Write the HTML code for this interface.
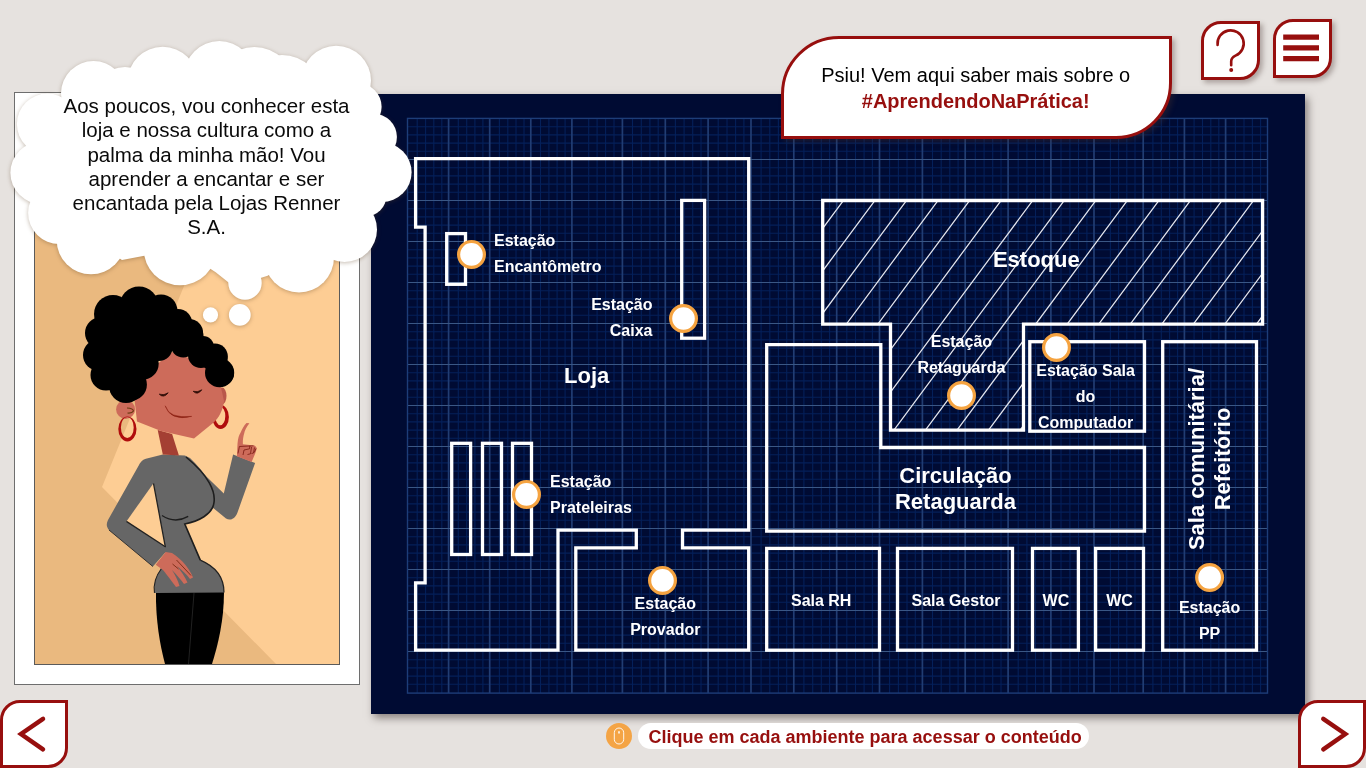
<!DOCTYPE html>
<html><head><meta charset="utf-8"><title>Loja</title>
<style>
html,body{margin:0;padding:0}
body{width:1366px;height:768px;overflow:hidden;position:relative;background:#e6e2df;font-family:"Liberation Sans",sans-serif}
#root{position:absolute;left:0;top:0;width:1366px;height:768px;will-change:transform;overflow:hidden}
.abs{position:absolute}
#frame{left:14px;top:92px;width:344px;height:591px;background:#fff;border:1px solid #6e6e6e}
#photo{left:35px;top:113px;width:304px;height:550.5px;background:#fdcd94;overflow:hidden;box-shadow:0 0 0 1px #5a5a5a}
#panel{left:371px;top:94px;width:934px;height:620px;background:#000b33;box-shadow:3px 4px 8px rgba(60,50,45,.55)}
.lb{position:absolute;color:#fff;font-weight:bold;white-space:nowrap}
#bubble{left:781px;top:36px;width:385px;height:97px;border:3px solid #970f0e;background:#fff;border-radius:58px 0 56px 0;box-shadow:3px 3px 5px rgba(70,50,45,.35);text-align:center;font-size:20px;line-height:26px;color:#000}
#bubble b{color:#970f0e}
.btn{position:absolute;background:#fff;border:3px solid #970f0e;box-sizing:border-box}
#hint{left:638px;top:723px;width:451px;height:26px;border-radius:13px;background:#fff;color:#970f0e;font-weight:bold;font-size:18px;line-height:26px;white-space:nowrap}
#hint span{position:absolute;left:10.5px;top:1px}
#mouse{left:606px;top:723px;width:26px;height:26px;border-radius:50%;background:#f4a445}
#cloudtxt{left:6.5px;top:94px;width:400px;text-align:center;font-size:20.5px;line-height:24.3px;color:#0a0a0a;white-space:nowrap}
</style></head><body>
<div id="root">
<div id="frame" class="abs"></div>
<div id="photo" class="abs"></div>
<div id="panel" class="abs"></div>
<svg class="abs" style="left:0;top:0" width="1366" height="768" viewBox="0 0 1366 768">
<path d="M417.2 118.4V693.1M425.6 118.4V693.1M433.8 118.4V693.1M441.8 118.4V693.1M458.3 118.4V693.1M466.7 118.4V693.1M474.9 118.4V693.1M482.9 118.4V693.1M499.4 118.4V693.1M507.8 118.4V693.1M516.0 118.4V693.1M524.0 118.4V693.1M540.5 118.4V693.1M548.9 118.4V693.1M557.1 118.4V693.1M565.1 118.4V693.1M588.7 118.4V693.1M597.1 118.4V693.1M605.6 118.4V693.1M614.0 118.4V693.1M632.5 118.4V693.1M641.3 118.4V693.1M649.9 118.4V693.1M658.2 118.4V693.1M675.4 118.4V693.1M684.1 118.4V693.1M692.7 118.4V693.1M701.0 118.4V693.1M718.2 118.4V693.1M727.0 118.4V693.1M735.6 118.4V693.1M743.9 118.4V693.1M761.1 118.4V693.1M769.8 118.4V693.1M778.4 118.4V693.1M786.7 118.4V693.1M803.9 118.4V693.1M812.7 118.4V693.1M821.3 118.4V693.1M829.6 118.4V693.1M846.8 118.4V693.1M855.5 118.4V693.1M864.1 118.4V693.1M872.4 118.4V693.1M889.6 118.4V693.1M898.4 118.4V693.1M907.0 118.4V693.1M915.3 118.4V693.1M932.5 118.4V693.1M941.2 118.4V693.1M949.8 118.4V693.1M958.1 118.4V693.1M975.3 118.4V693.1M984.1 118.4V693.1M992.7 118.4V693.1M1001.0 118.4V693.1M1018.2 118.4V693.1M1026.9 118.4V693.1M1035.5 118.4V693.1M1043.8 118.4V693.1M1061.0 118.4V693.1M1069.9 118.4V693.1M1078.5 118.4V693.1M1086.9 118.4V693.1M1110.4 118.4V693.1M1118.6 118.4V693.1M1126.8 118.4V693.1M1135.0 118.4V693.1M1152.9 118.4V693.1M1161.3 118.4V693.1M1169.6 118.4V693.1M1177.6 118.4V693.1M1194.1 118.4V693.1M1202.5 118.4V693.1M1210.8 118.4V693.1M1218.8 118.4V693.1M1235.4 118.4V693.1M1244.0 118.4V693.1M1252.4 118.4V693.1M1260.6 118.4V693.1M407.5 126.7H1267.5M407.5 134.9H1267.5M407.5 143.1H1267.5M407.5 151.3H1267.5M407.5 167.7H1267.5M407.5 175.9H1267.5M407.5 184.1H1267.5M407.5 192.3H1267.5M407.5 208.7H1267.5M407.5 216.9H1267.5M407.5 225.1H1267.5M407.5 233.3H1267.5M407.5 249.7H1267.5M407.5 257.9H1267.5M407.5 266.1H1267.5M407.5 274.3H1267.5M407.5 290.7H1267.5M407.5 298.9H1267.5M407.5 307.1H1267.5M407.5 315.3H1267.5M407.5 331.7H1267.5M407.5 339.9H1267.5M407.5 348.1H1267.5M407.5 356.3H1267.5M407.5 372.7H1267.5M407.5 380.9H1267.5M407.5 389.1H1267.5M407.5 397.3H1267.5M407.5 413.7H1267.5M407.5 421.9H1267.5M407.5 430.1H1267.5M407.5 438.3H1267.5M407.5 454.7H1267.5M407.5 462.9H1267.5M407.5 471.1H1267.5M407.5 479.3H1267.5M407.5 495.7H1267.5M407.5 503.9H1267.5M407.5 512.1H1267.5M407.5 520.3H1267.5M407.5 536.7H1267.5M407.5 544.9H1267.5M407.5 553.1H1267.5M407.5 561.3H1267.5M407.5 577.7H1267.5M407.5 585.9H1267.5M407.5 594.1H1267.5M407.5 602.3H1267.5M407.5 618.7H1267.5M407.5 626.9H1267.5M407.5 635.1H1267.5M407.5 643.3H1267.5M407.5 659.7H1267.5M407.5 667.9H1267.5M407.5 676.1H1267.5M407.5 684.3H1267.5" stroke="#04205a" stroke-width="1.1" fill="none"/>
<path d="M448.6 118.4V693.1M489.7 118.4V693.1M530.8 118.4V693.1M571.9 118.4V693.1M622.4 118.4V693.1M665.3 118.4V693.1M708.1 118.4V693.1M751.0 118.4V693.1M793.8 118.4V693.1M836.7 118.4V693.1M879.5 118.4V693.1M922.4 118.4V693.1M965.2 118.4V693.1M1008.1 118.4V693.1M1050.9 118.4V693.1M1094.0 118.4V693.1M1143.2 118.4V693.1M1184.4 118.4V693.1M1225.6 118.4V693.1" stroke="#213d73" stroke-width="1.7" fill="none"/>
<path d="M407.5 159.5H1267.5M407.5 200.5H1267.5M407.5 241.5H1267.5M407.5 282.5H1267.5M407.5 323.5H1267.5M407.5 364.5H1267.5M407.5 405.5H1267.5M407.5 446.5H1267.5M407.5 487.5H1267.5M407.5 528.5H1267.5M407.5 569.5H1267.5M407.5 610.5H1267.5M407.5 651.5H1267.5" stroke="#3a5785" stroke-width="1.1" fill="none"/>
<rect x="407.5" y="118.4" width="860.0" height="574.7" fill="none" stroke="#1d3d78" stroke-width="1.4"/>
<clipPath id="est"><path d="M822.7 200.5H1262.6V324.2H1023.5V430.2H890.5V324.2H822.7Z"/></clipPath>
<path clip-path="url(#est)" d="M752.8 195L574.8 435M784.4 195L606.3 435M815.9 195L637.9 435M847.5 195L669.4 435M879.0 195L701.0 435M910.6 195L732.5 435M942.1 195L764.1 435M973.7 195L795.6 435M1005.2 195L827.2 435M1036.8 195L858.7 435M1068.3 195L890.3 435M1099.9 195L921.8 435M1131.4 195L953.4 435M1163.0 195L984.9 435M1194.5 195L1016.5 435M1226.1 195L1048.0 435M1257.6 195L1079.6 435M1289.2 195L1111.1 435M1320.7 195L1142.7 435M1352.3 195L1174.2 435M1383.8 195L1205.8 435M1415.4 195L1237.3 435M1446.9 195L1268.9 435M1478.5 195L1300.4 435M1510.0 195L1332.0 435" stroke="#e4e6ee" stroke-width="1.25" fill="none"/>
<path fill="none" stroke="#fff" stroke-width="3.3" stroke-linejoin="miter" d="M415.6 158.7H748.7V530.1H682.5V547.9H748.7V650.2H575.8V547.9H636.3V530.1H558V650.2H415.6V582.9H425.1V227.2H415.6Z"/>
<rect fill="none" stroke="#fff" stroke-width="3.3" stroke-linejoin="miter" x="446.7" y="233.6" width="18.8" height="50.7"/>
<rect fill="none" stroke="#fff" stroke-width="3.3" stroke-linejoin="miter" x="681.7" y="200.4" width="22.9" height="137.8"/>
<rect fill="none" stroke="#fff" stroke-width="3.3" stroke-linejoin="miter" x="451.7" y="443.3" width="18.9" height="111.2"/>
<rect fill="none" stroke="#fff" stroke-width="3.3" stroke-linejoin="miter" x="482.5" y="443.3" width="19.0" height="111.2"/>
<rect fill="none" stroke="#fff" stroke-width="3.3" stroke-linejoin="miter" x="512.5" y="443.3" width="19.0" height="111.2"/>
<path fill="none" stroke="#fff" stroke-width="3.3" stroke-linejoin="miter" d="M822.7 200.5H1262.6V324.2H1023.5V430.2H890.5V324.2H822.7Z"/>
<path fill="none" stroke="#fff" stroke-width="3.3" stroke-linejoin="miter" d="M766.7 344.7H880.8V447.5H1144.5V531.1H766.7Z"/>
<rect fill="none" stroke="#fff" stroke-width="3.3" stroke-linejoin="miter" x="1029.8" y="341.7" width="114.7" height="89.5"/>
<rect fill="none" stroke="#fff" stroke-width="3.3" stroke-linejoin="miter" x="1162.7" y="341.7" width="93.8" height="308.5"/>
<rect fill="none" stroke="#fff" stroke-width="3.3" stroke-linejoin="miter" x="766.7" y="548.4" width="112.8" height="101.8"/>
<rect fill="none" stroke="#fff" stroke-width="3.3" stroke-linejoin="miter" x="897.5" y="548.4" width="115.0" height="101.8"/>
<rect fill="none" stroke="#fff" stroke-width="3.3" stroke-linejoin="miter" x="1032.5" y="548.4" width="45.9" height="101.8"/>
<rect fill="none" stroke="#fff" stroke-width="3.3" stroke-linejoin="miter" x="1095.6" y="548.4" width="47.9" height="101.8"/>
<circle cx="471.5" cy="254.4" r="12.9" fill="#fff" stroke="#f5a340" stroke-width="3.2"/>
<circle cx="683.5" cy="318.5" r="12.9" fill="#fff" stroke="#f5a340" stroke-width="3.2"/>
<circle cx="526.5" cy="494.4" r="12.9" fill="#fff" stroke="#f5a340" stroke-width="3.2"/>
<circle cx="662.5" cy="580.4" r="12.9" fill="#fff" stroke="#f5a340" stroke-width="3.2"/>
<circle cx="961.5" cy="395.5" r="12.9" fill="#fff" stroke="#f5a340" stroke-width="3.2"/>
<circle cx="1056.5" cy="347.5" r="12.9" fill="#fff" stroke="#f5a340" stroke-width="3.2"/>
<circle cx="1209.6" cy="577.5" r="12.9" fill="#fff" stroke="#f5a340" stroke-width="3.2"/>
</svg>
<div class="lb" style="left:494px;text-align:left;top:227.6px;font-size:16px;line-height:26px">Estação<br>Encantômetro</div>
<div class="lb" style="right:713.5px;text-align:right;top:291.6px;font-size:16px;line-height:26px">Estação<br>Caixa</div>
<div class="lb" style="left:550px;text-align:left;top:468.7px;font-size:16px;line-height:26px">Estação<br>Prateleiras</div>
<div class="lb" style="left:465.29999999999995px;width:400px;text-align:center;top:591.1px;font-size:16px;line-height:26px">Estação<br>Provador</div>
<div class="lb" style="left:761.4px;width:400px;text-align:center;top:328.8px;font-size:16px;line-height:26px">Estação<br>Retaguarda</div>
<div class="lb" style="left:885.5999999999999px;width:400px;text-align:center;top:357.8px;font-size:16px;line-height:26px">Estação Sala<br>do<br>Computador</div>
<div class="lb" style="left:1009.5999999999999px;width:400px;text-align:center;top:594.9px;font-size:16px;line-height:26px">Estação<br>PP</div>
<div class="lb" style="left:621.2px;width:400px;text-align:center;top:587.8px;font-size:16px;line-height:26px">Sala RH</div>
<div class="lb" style="left:756px;width:400px;text-align:center;top:587.8px;font-size:16px;line-height:26px">Sala Gestor</div>
<div class="lb" style="left:855.9000000000001px;width:400px;text-align:center;top:587.8px;font-size:16px;line-height:26px">WC</div>
<div class="lb" style="left:919.5999999999999px;width:400px;text-align:center;top:587.8px;font-size:16px;line-height:26px">WC</div>
<div class="lb" style="left:386.70000000000005px;width:400px;text-align:center;top:362.6px;font-size:22px;line-height:26px">Loja</div>
<div class="lb" style="left:836.3px;width:400px;text-align:center;top:246.6px;font-size:22px;line-height:26px">Estoque</div>
<div class="lb" style="left:755.5px;width:400px;text-align:center;top:463.1px;font-size:22px;line-height:26px">Circulação<br>Retaguarda</div>
<div class="lb" style="left:1210.3px;top:459px;font-size:22px;line-height:26px;text-align:center;transform:translate(-50%,-50%) rotate(-90deg);">Sala comunitária/<br>Refeitório</div>
<div id="bubble" class="abs"><div style="margin-top:22.5px;position:relative;left:-0.8px">Psiu! Vem aqui saber mais sobre o<br><b>#AprendendoNaPrática!</b></div></div>
<!--CHAR-->
<svg class="abs" style="left:35px;top:113px" width="304" height="550.5" viewBox="35 113 304 550.5">
<path d="M34 112H255L102 487L276 664H34Z" fill="#eab97f"/>
<!-- pants -->
<path d="M156 592C155.500 620 160 645 165 664H212C218 645 224 620 224 592Z" fill="#000"/>
<path d="M194 593L188.500 664" stroke="#2a2a2a" stroke-width="0.800" fill="none"/>
<!-- back arm (viewer's right, raised) -->
<path d="M184.800 455.400L223.800 493.500L233.100 454.600L255.100 463L237.300 513C235 519 230 521 226 518.500L212 507Z" fill="#666666"/>
<!-- torso -->
<path d="M162.800 454.600L145.900 458.800C142 460 140.800 462 139 465L108 520C106 524 106.500 527 109 530L152.900 566.500L165.700 551.900L160.200 570.100C155 578 153.500 585 154.700 592.900L224 592.400C224 580 219 568 200.300 560.100L184.800 524C200 521 211 514 213.500 505C217 492 208 475 190 458L184.800 455.400Z" fill="#666666"/>
<!-- gap between arm and torso (background visible) -->
<path d="M153.500 483.300L126.400 521.400L165.300 546.800Z" fill="#fdcd94"/>
<path d="M153.500 483.300L165.300 546.800" stroke="#222" stroke-width="1.300" fill="none"/>
<path d="M126.400 521.400L165.700 547" stroke="#222" stroke-width="1.300" fill="none"/>
<path d="M109 530L152.900 566.500" stroke="#333" stroke-width="1" fill="none"/>
<!-- bust lines -->
<path d="M186 457C208 475 217 492 213.500 505C211 514 200 521 184.800 524L200.300 560.100" stroke="#1e1e1e" stroke-width="1.600" fill="none"/>
<path d="M162 515.500Q175 524 188.200 516.400" stroke="#1e1e1e" stroke-width="1.300" fill="none"/>
<path d="M200.300 560.100C219 568 224 580 224 592.400" stroke="#222" stroke-width="1.200" fill="none"/>
<path d="M161.500 568.500C155 577 153.300 585 154.500 592.900" stroke="#222" stroke-width="1.100" fill="none"/>
<!-- hand on hip -->
<path d="M165.700 551.900L155.700 564.700L163 570C168 576 173 583 176 587L179.500 586C178 580 175 575 172 570C177 575 181 580 184 584L187.500 582.500C185 577 181 571 177 566C182 570 187 575 190 579L193 577.500C190 570 183 560 172 553Z" fill="#cd6b5a"/>
<path d="M172.500 564L178.500 569M176.500 560L191 575.500" stroke="#7a2a14" stroke-width="0.900" fill="none"/>
<!-- neck -->
<path d="M157.700 430L172.100 434L178.900 455.400L162.800 454.600Z" fill="#a43f33"/>
<!-- ears -->
<circle cx="125.600" cy="409.400" r="9.500" fill="#cd6b5a"/>
<ellipse cx="222" cy="396" rx="4.500" ry="8.500" fill="#b9574a"/>
<path fill-rule="evenodd" fill="#b00d0d" d="M212.300 417a8.300 11.900 0 1 0 16.600 0a8.300 11.900 0 1 0 -16.600 0ZM215.300 416a5 9.300 0 1 0 10 0a5 9.300 0 1 0 -10 0Z"/>
<!-- face -->
<path d="M134 395L150 370L172 352L206 364L221 387.500L224 401C223 410 219 418 213 423L194 438.500L161 431L137 421.500Z" fill="#cd6b5a"/>
<!-- hair -->
<g fill="#000">
<circle cx="139" cy="306" r="19.500"/><circle cx="113" cy="314" r="19"/><circle cx="101" cy="333" r="16"/><circle cx="99" cy="355" r="16"/>
<circle cx="106" cy="375" r="15.500"/><circle cx="126" cy="386" r="17"/><circle cx="161" cy="311" r="16.500"/><circle cx="178" cy="323" r="14"/>
<circle cx="191" cy="336" r="12.500"/><circle cx="203" cy="347" r="11"/><circle cx="214" cy="358" r="13.500"/><circle cx="221" cy="373" r="13"/>
<circle cx="130.500" cy="384.500" r="16.400"/><circle cx="142.300" cy="363.400" r="16.400"/><circle cx="158.700" cy="347" r="14"/>
<circle cx="183.300" cy="344.600" r="12.900"/><circle cx="200.900" cy="355.200" r="12.900"/><circle cx="219.600" cy="372.700" r="14.600"/>
<circle cx="214.900" cy="356.300" r="12.900"/><circle cx="189.100" cy="332.900" r="14"/>
<path d="M139 306L113 314L101 333L99 355L106 375L130.500 384.500L142.300 363.400L158.700 347L183.300 344.600L200.900 355.200L214.900 356.300L189 333L178 323L161 311Z"/>
<circle cx="135" cy="340" r="30"/>
</g>
<!-- face details -->
<path d="M159.300 394.200Q163.800 398.600 168.200 392.800Q164 395.800 159.300 394.200Z" fill="#2a0a04" stroke="#2a0a04" stroke-width="0.800" stroke-linejoin="round"/>
<path d="M193.200 391.300Q197.600 395.600 201.800 389.800Q197.600 392.800 193.200 391.300Z" fill="#2a0a04" stroke="#2a0a04" stroke-width="0.800" stroke-linejoin="round"/>
<path d="M165.200 405.800Q168.500 418.800 191.700 416.400Q170.500 421.500 165.200 405.800Z" fill="#8a1f10" stroke="#8a1f10" stroke-width="0.500"/>
<path d="M127 408Q133 408 133.500 411Q132 413.500 127.500 413" stroke="#6a3a10" stroke-width="1.200" fill="none"/>
<!-- earrings -->
<path fill-rule="evenodd" fill="#b00d0d" d="M118.300 429a9.100 12.500 0 1 0 18.200 0a9.100 12.500 0 1 0 -18.200 0ZM120.900 427.500a6.400 10.500 0 1 0 12.800 0a6.400 10.500 0 1 0 -12.800 0Z"/>
<!-- pointing hand -->
<path d="M246.500 422.900L249.400 423.200C246.500 427 244.500 431 244.300 432.900C243 437 242.700 441 242.900 444.200L254.400 445.400C256.500 446.500 257 448 256.500 449.500L255.100 453.700L251.600 461.900L236.900 456.300L237.500 443.700C238 438 239 435 240.400 432.900C242 429 244 425.500 246.500 422.900Z" fill="#cd6b5a"/>
<path d="M238 453.500L239.400 446.500L253.500 445.800M243 455L244 450L249.500 448.800L249.800 445.800M247.500 454.500L250.500 453.800L251.500 447M251.500 453.500L253.500 453L254.500 447.500M254.200 452.500L256 448.500" stroke="#7a1a10" stroke-width="0.800" fill="none"/>
</svg>

<!--CLOUD-->
<svg class="abs" style="left:0;top:0;filter:drop-shadow(0 1px 2px rgba(90,60,30,.35))" width="430" height="340" viewBox="0 0 430 340" fill="#fff">
<circle cx="93.5" cy="93.5" r="32.5"/>
<circle cx="125" cy="100" r="33"/>
<circle cx="162.700" cy="82" r="35.200"/>
<circle cx="219.300" cy="76.400" r="35.300"/>
<circle cx="254.400" cy="86.500" r="39.600"/>
<circle cx="282" cy="95" r="40"/>
<circle cx="336.200" cy="80.600" r="34.800"/>
<circle cx="358.100" cy="106.800" r="23.500"/><circle cx="373.500" cy="137" r="23.400"/>
<circle cx="381.900" cy="172.300" r="29.700"/><circle cx="366" cy="196" r="20.300"/>
<circle cx="344.500" cy="229.500" r="32.500"/>
<circle cx="299" cy="257.400" r="35"/>
<circle cx="245" cy="283" r="16.700"/>
<circle cx="180" cy="249" r="36.300"/>
<circle cx="91" cy="240" r="34.300"/>
<circle cx="59.300" cy="212.900" r="31.200"/>
<circle cx="41.600" cy="172.800" r="31.200"/>
<circle cx="47.300" cy="124" r="30.400"/>
<path d="M47 124L93 93L163 82L219 76L336 80L358 107L373 137L382 172L366 196L345 230L299 257L267.600 275.700L245 283L228.900 282.700L215.700 272.200L180 249L122 260L91 240L59 213L42 173Z"/>
<circle cx="239.800" cy="314.900" r="10.900"/>
<circle cx="210.500" cy="314.900" r="7.600"/>
</svg>

<div id="cloudtxt" class="abs">Aos poucos, vou conhecer esta<br>loja e nossa cultura como a<br>palma da minha mão! Vou<br>aprender a encantar e ser<br>encantada pela Lojas Renner<br>S.A.</div>
<!--BUTTONS-->
<div class="btn" style="left:1201px;top:21px;width:59px;height:59px;border-radius:20px 0 20px 0;box-shadow:3px 3px 5px rgba(70,50,45,.35)"></div>
<div class="btn" style="left:1273px;top:19px;width:59px;height:59px;border-radius:20px 0 20px 0;box-shadow:3px 3px 5px rgba(70,50,45,.35)"></div>
<div class="btn" style="left:0px;top:700px;width:68px;height:68px;border-radius:20px 0 20px 0"></div>
<div class="btn" style="left:1298px;top:700px;width:68px;height:68px;border-radius:20px 0 20px 0"></div>
<svg class="abs" style="left:0;top:0" width="1366" height="768" viewBox="0 0 1366 768" fill="none" stroke="#970f0e" stroke-linecap="round">
<path d="M1217.6 45A13.1 13.1 0 1 1 1235.5 55.6Q1231.2 57.6 1231.2 61.5V65.3" stroke-width="2.6"/>
<circle cx="1231.2" cy="70" r="2" fill="#970f0e" stroke="none"/>
<path d="M1283.2 37.1H1319M1283.2 47.8H1319M1283.2 58.6H1319" stroke-width="5.2" stroke-linecap="butt"/>
<path d="M43 718.8L21 734L43 749.3" stroke-width="4.5" stroke-linejoin="miter"/>
<path d="M1323.3 718.8L1345.3 734L1323.3 749.3" stroke-width="4.5" stroke-linejoin="miter"/>
</svg>
<div id="mouse" class="abs"></div>
<svg class="abs" style="left:606px;top:723px" width="26" height="26" viewBox="0 0 26 26" fill="none" stroke="#fff" stroke-width="0.9"><rect x="8.3" y="5" width="9.4" height="16" rx="4.7"/><path d="M13 8.2V10.4" stroke-width="1.5"/></svg>
<div id="hint" class="abs"><span>Clique em cada ambiente para acessar o conteúdo</span></div>
</div>
</body></html>
